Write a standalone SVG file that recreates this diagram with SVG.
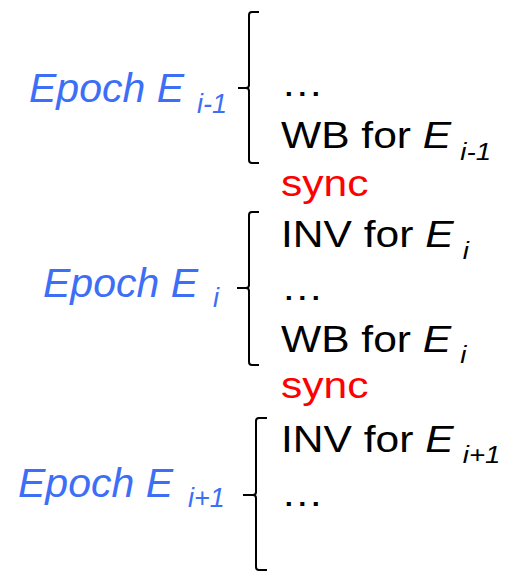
<svg xmlns="http://www.w3.org/2000/svg" width="505" height="571" viewBox="0 0 505 571">
  <style>
    .epoch { font-family: "Liberation Sans", Arial, sans-serif; font-style: italic; font-size: 41px; fill: #3d6ef6; }
    .esub { font-size: 27px; }
    .line { font-family: "Liberation Sans", Arial, sans-serif; font-size: 37px; fill: #000; }
    .em { font-style: italic; }
    .lsub { font-style: italic; font-size: 24px; }
    .sync { font-family: "Liberation Sans", Arial, sans-serif; font-size: 37px; fill: #ff0000; }
    .brace { fill: none; stroke: #000; stroke-width: 2; stroke-linejoin: round; }
  </style>
  <rect width="505" height="571" fill="#fff"/>

  <!-- right-hand lines are set slightly wide: x stretched 1.15 about x=281 -->

  <!-- epoch i-1 -->
  <g id="epoch-prev">
    <text class="epoch" x="29" y="102">Epoch E<tspan class="esub" x="197" y="113">i-1</tspan></text>
    <path class="brace" d="M259,12 H252 Q249,12 249,15 V85 Q249,88 246,88 H238 M246,88 Q249,88 249,91 V160 Q249,163 252,163 H259"/>
    <g transform="matrix(1.15 0 0 1 -42.15 0)">
      <text class="line" x="281" y="96">…</text>
      <text class="line" x="281" y="148">WB for <tspan class="em">E</tspan><tspan class="lsub" dx="8" dy="12">i-1</tspan></text>
    </g>
  </g>

  <g id="sync-1" transform="matrix(1.15 0 0 1 -42.15 0)">
    <text class="sync" x="281" y="196">sync</text>
  </g>

  <!-- epoch i -->
  <g id="epoch-cur">
    <text class="epoch" x="43" y="297">Epoch E<tspan class="esub" x="213" y="307">i</tspan></text>
    <path class="brace" d="M259,212 H252 Q249,212 249,215 V285 Q249,288 246,288 H237 M246,288 Q249,288 249,291 V362 Q249,365 252,365 H259"/>
    <g transform="matrix(1.15 0 0 1 -42.15 0)">
      <text class="line" x="281" y="247">INV for <tspan class="em">E</tspan><tspan class="lsub" dx="8" dy="12">i</tspan></text>
      <text class="line" x="281" y="300">…</text>
      <text class="line" x="281" y="352">WB for <tspan class="em">E</tspan><tspan class="lsub" dx="8" dy="11">i</tspan></text>
    </g>
  </g>

  <g id="sync-2" transform="matrix(1.15 0 0 1 -42.15 0)">
    <text class="sync" x="281" y="398">sync</text>
  </g>

  <!-- epoch i+1 -->
  <g id="epoch-next">
    <text class="epoch" x="18" y="497">Epoch E<tspan class="esub" x="188" y="507">i+1</tspan></text>
    <path class="brace" d="M267,418 H259 Q256,418 256,421 V492 Q256,495 253,495 H243 M253,495 Q256,495 256,498 V567 Q256,570 259,570 H267"/>
    <g transform="matrix(1.15 0 0 1 -42.15 0)">
      <text class="line" x="281" y="452">INV for <tspan class="em">E</tspan><tspan class="lsub" dx="8" dy="11">i+1</tspan></text>
      <text class="line" x="281" y="506">…</text>
    </g>
  </g>
</svg>
